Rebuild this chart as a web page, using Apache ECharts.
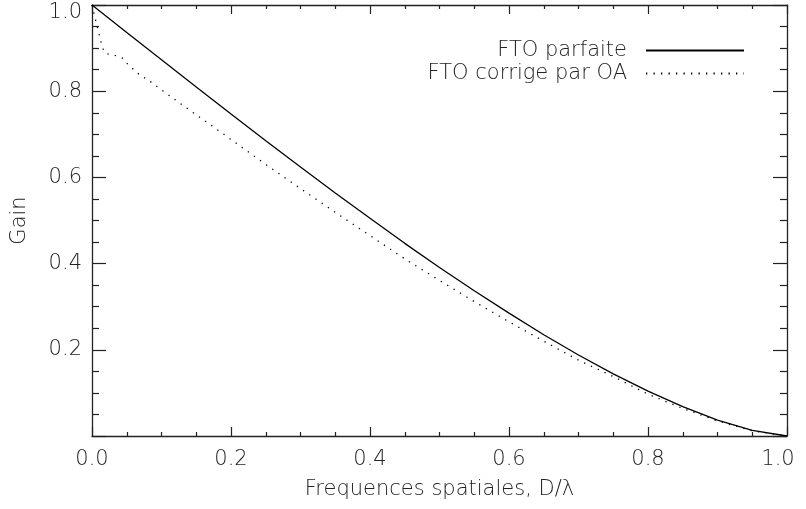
<!DOCTYPE html>
<html><head><meta charset="utf-8">
<script src="https://cdn.jsdelivr.net/npm/echarts@6/dist/echarts.min.js"></script>
<style>html,body{margin:0;padding:0;background:#fff}#c{width:806px;height:509px}</style>
</head><body><div id="c"></div>
<script>
const freqPerfect = [0,0.05,0.1,0.15,0.2,0.25,0.3,0.35,0.4,0.45,0.5,0.55,0.6,0.65,0.7,0.75,0.8,0.85,0.9,0.95,1.0];
const gainPerfect = [1.0,0.936,0.873,0.810,0.747,0.685,0.624,0.564,0.505,0.447,0.391,0.337,0.285,0.235,0.188,0.144,0.104,0.068,0.037,0.013,0.0];
const freqOA = [0,0.003,0.006,0.009,0.012,0.015,0.02,0.03,0.045,0.05,0.06,0.07,0.08,0.1,0.125,0.15,0.175,0.2,0.25,0.3,0.35,0.4,0.45,0.5,0.55,0.6,0.65,0.7,0.75,0.8,0.85,0.9,0.95,1.0];
const gainOA = [1.0,0.98,0.96,0.94,0.92,0.90,0.887,0.885,0.876,0.865,0.850,0.836,0.827,0.803,0.774,0.745,0.717,0.688,0.630,0.574,0.519,0.465,0.411,0.361,0.312,0.265,0.220,0.176,0.138,0.097,0.064,0.035,0.012,0.0];
const seriesNames = ['FTO parfaite','FTO corrige par OA'];
const xTitle = 'Frequences spatiales, D/\u03bb';
const yTitle = 'Gain';

const FONT = 'DejaVu Sans';
const FS = 21;
const INK = '#222';
const pairs = (xs, ys) => xs.map((x, i) => [x, ys[i]]);
const lblStyle = {fontFamily: FONT, fontWeight: 200, fontSize: FS, color: INK};

function xAx(pos, show) {
  return {
    type: 'value', position: pos, min: 0, max: 1, interval: 0.2,
    axisLine: {show: true, onZero: false, lineStyle: {color: INK, width: 1.3}},
    axisTick: {show: true, inside: true, length: 9, lineStyle: {color: INK, width: 1.2}},
    minorTick: {show: true, splitNumber: 4, length: 4, lineStyle: {color: INK, width: 1.2}},
    splitLine: {show: false},
    axisLabel: Object.assign({show: show, margin: 13,
      formatter: v => v === 1 ? '{m|' + v.toFixed(1) + '}' : v.toFixed(1),
      rich: {m: Object.assign({padding: [0, 18, 0, 0]}, lblStyle)}}, lblStyle),
    name: show ? xTitle : '', nameLocation: 'middle', nameGap: 43,
    nameTextStyle: lblStyle
  };
}
function yAx(pos, show) {
  return {
    type: 'value', position: pos, min: 0, max: 1, interval: 0.2,
    axisLine: {show: true, onZero: false, lineStyle: {color: INK, width: 1.3}},
    axisTick: {show: true, inside: true, length: 14, lineStyle: {color: INK, width: 1.2}},
    minorTick: {show: true, splitNumber: 4, length: 7, lineStyle: {color: INK, width: 1.2}},
    splitLine: {show: false},
    axisLabel: Object.assign({show: show, margin: 10,
      formatter: v => v === 0 ? '' : (v === 1 ? '{m|' + v.toFixed(1) + '}' : v.toFixed(1)),
      rich: {m: Object.assign({padding: [16, 0, 0, 0]}, lblStyle)}}, lblStyle),
    name: show ? yTitle : '', nameLocation: 'middle', nameGap: 62,
    nameTextStyle: lblStyle
  };
}
function leg(name, top) {
  return {data: [name], right: 61, top: top, padding: 0, align: 'right', orient: 'vertical',
    itemWidth: 98, itemHeight: 14, itemStyle: {opacity: 0},
    textStyle: Object.assign({padding: [0, 14, 0, 0]}, lblStyle)};
}

const chart = echarts.init(document.getElementById('c'), null, {renderer: 'canvas'});
chart.setOption({
  animation: false,
  backgroundColor: '#fff',
  grid: {left: 92, right: 19, top: 5, bottom: 73, containLabel: false},
  xAxis: [xAx('bottom', true), xAx('top', false)],
  yAxis: [yAx('left', true), yAx('right', false)],
  legend: [leg(seriesNames[0], 40), leg(seriesNames[1], 63)],
  series: [
    {name: seriesNames[0], type: 'line', data: pairs(freqPerfect, gainPerfect), showSymbol: false, symbol: 'none',
      xAxisIndex: 0, yAxisIndex: 0,
      lineStyle: {color: '#000', width: 1.3, type: 'solid'}, itemStyle: {color: '#000'}},
    {name: seriesNames[1], type: 'line', data: pairs(freqOA, gainOA), showSymbol: false, symbol: 'none',
      xAxisIndex: 0, yAxisIndex: 0,
      lineStyle: {color: '#000', width: 1.3, type: [1.3, 6.2]}, itemStyle: {color: '#000'}}
  ]
});
</script></body></html>
